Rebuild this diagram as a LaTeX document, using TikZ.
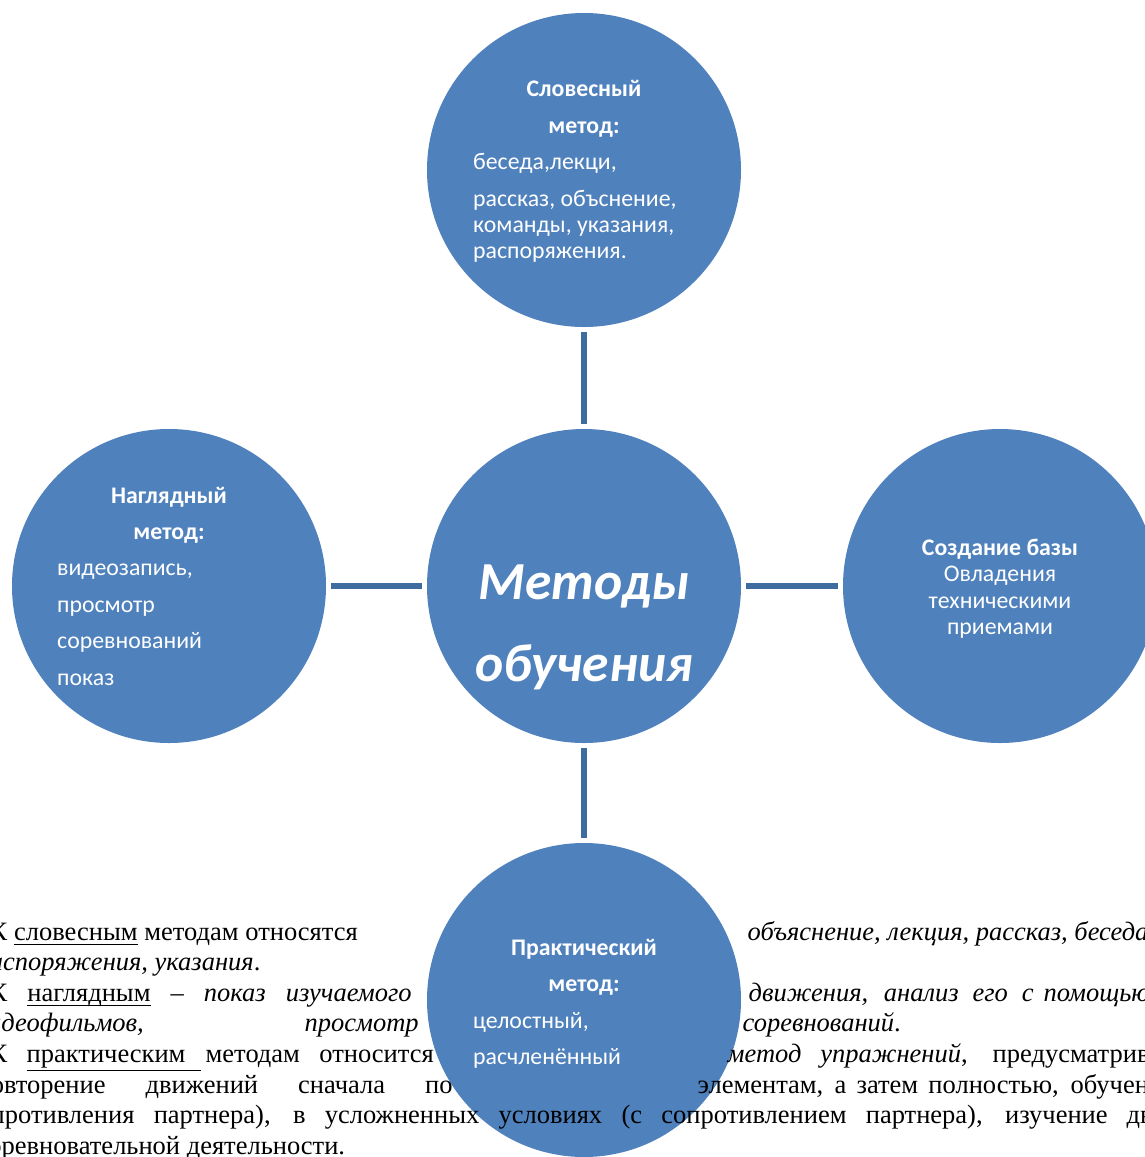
\documentclass[tikz,border=0pt]{standalone}
\usepackage{fontspec}
\setmainfont{Liberation Serif}
\newfontfamily\carlito{Carlito}
\definecolor{circ}{HTML}{4F81BD}
\definecolor{connc}{HTML}{3F6C9F}
\newcommand\at[2]{\makebox[0pt][l]{\hspace*{#1pt}#2}}
\newcommand\ulx[2][5]{\setbox0\hbox{#2}\rlap{\rule[-#1pt]{\wd0}{1.4pt}}\box0\relax}
\begin{document}
\begin{tikzpicture}[x=1pt,y=-1pt,
  blob/.style={circle,fill=circ,draw=none,minimum size=314pt,inner sep=0pt},
  link/.style={draw=connc,line width=6pt,shorten <=5pt,shorten >=5pt},
  ctext/.style={text=white,font=\carlito\fontsize{23.8}{28}\selectfont,inner sep=0pt,anchor=base},
  cbold/.style={ctext,font=\carlito\bfseries\fontsize{23.8}{28}\selectfont},
  cleft/.style={ctext,anchor=base west},
  cbig/.style={ctext,font=\carlito\bfseries\itshape\fontsize{53.5}{60}\selectfont},
  btext/.style={font=\fontsize{26.5}{31}\selectfont,inner sep=0pt,anchor=base west}]
\useasboundingbox (0,0) rectangle (1145,1157);
\fill[white] (0,0) rectangle (1145,1157);
\clip (0,0) rectangle (1145,1157);
% circles
\node[blob] (ct) at (584,170) {};
\node[blob] (cm) at (584,586) {};
\node[blob] (cl) at (169,586) {};
\node[blob] (cr) at (1000,586) {};
\node[blob] (cb) at (584,1000) {};
% connectors
\draw[link] (ct) -- (cm);
\draw[link] (cl) -- (cm);
\draw[link] (cm) -- (cr);
\draw[link] (cm) -- (cb);
% top circle text
\node[cbold] (t1) at (584,96) {Словесный};
\node[cbold] (t2) at (584,133) {метод:};
\node[cleft] (t3) at (473,169) {беседа,лекци,};
\node[cleft] (t4) at (473,206) {рассказ, объснение,};
\node[cleft] (t5) at (473,232) {команды, указания,};
\node[cleft] (t6) at (473,258) {распоряжения.};
% left circle text
\node[cbold] (a1) at (169,503) {Наглядный};
\node[cbold] (a2) at (169,539) {метод:};
\node[cleft] (a3) at (57,575) {видеозапись,};
\node[cleft] (a4) at (57,612) {просмотр};
\node[cleft] (a5) at (57,648) {соревнований};
\node[cleft] (a6) at (57,685) {показ};
% right circle text
\node[cbold] (r1) at (1000,555) {Создание базы};
\node[ctext] (r2) at (1000,581.5) {Овладения};
\node[ctext] (r3) at (1000,608) {техническими};
\node[ctext] (r4) at (1000,634) {приемами};
% centre text
\node[cbig] (m1) at (584,599) {Методы};
\node[cbig] (m2) at (584,681) {обучения};
% bottom circle text
\node[cbold] (b1) at (584,955) {Практический};
\node[cbold] (b2) at (584,991) {метод:};
\node[cleft] (b3) at (473,1028) {целостный,};
\node[cleft] (b4) at (473,1064) {расчленённый};
% body text
\node[btext] (l1) at (0,940) {\at{-11}{\makebox[368pt][s]{К \ulx{словесным} методам относятся}}\at{747}{\textit{объяснение, лекция, рассказ, беседа, команды,}}};
\node[btext] (l2) at (0,970.6) {\at{-24}{\textit{распоряжения, указания}.}};
\node[btext] (l3) at (0,1001.2) {\at{-11}{\makebox[422pt][s]{К \ulx{наглядным} – \textit{показ изучаемого}}}\at{748}{\makebox[285pt][s]{\textit{движения, анализ его с}}}\at{1043}{\textit{помощью}}};
\node[btext] (l4) at (0,1031.8) {\at{-24}{\makebox[442pt][s]{\textit{видеофильмов,} \textit{просмотр}}}\at{742}{\textit{соревнований}.}};
\node[btext] (l5) at (0,1062.4) {\at{-11}{К}\at{26}{\rule[-9pt]{174pt}{1.4pt}}\at{26}{практическим}\at{205}{\makebox[228pt][s]{методам относится}}\at{727}{\makebox[240pt][s]{\textit{метод упражнений},}}\at{992}{предусматривающий}};
\node[btext] (l6) at (0,1093) {\at{-24}{\makebox[476pt][s]{повторение движений сначала по}}\at{697}{\makebox[361pt][s]{элементам, а затем полностью,}}\at{1070}{обучение}};
\node[btext] (l7) at (0,1123.6) {\at{-35}{\makebox[1142pt][s]{сопротивления партнера), в усложненных условиях (с сопротивлением партнера), изучение}}\at{1126}{движений}};
\node[btext] (l8) at (0,1154.2) {\at{-24}{соревновательной деятельности.}};
\end{tikzpicture}
\end{document}
